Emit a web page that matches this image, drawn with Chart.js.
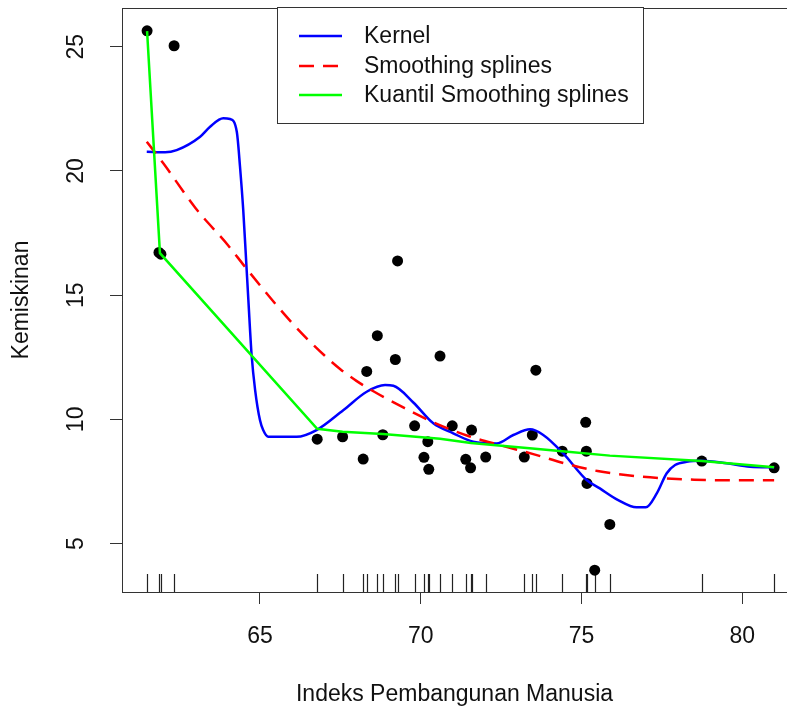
<!DOCTYPE html>
<html>
<head>
<meta charset="utf-8">
<script src="https://cdn.jsdelivr.net/npm/chart.js@4.4.0/dist/chart.umd.min.js"></script>
<style>
  html, body { margin: 0; padding: 0; background: #ffffff; overflow: hidden; }
  #wrap { width: 787px; height: 708px; }
  canvas { display: block; }
</style>
</head>
<body>
<div id="wrap"><canvas id="c" width="787" height="708"></canvas></div>
<script>
// ---- data ----
const ipm = [61.49, 62.33, 61.86, 61.92, 66.78, 67.57, 68.21, 68.32, 68.65, 68.82, 69.21, 69.28,
             69.81, 70.10, 70.22, 70.25, 70.60, 70.98, 71.40, 71.55, 71.58, 72.02, 73.22, 73.47,
             73.58, 74.40, 75.13, 75.15, 75.17, 75.41, 75.88, 78.74, 80.99];
const kemiskinan = [25.64, 25.04, 16.72, 16.65, 9.20, 9.30, 8.40, 11.93, 13.37, 9.38, 12.41, 16.38,
                    9.74, 8.47, 9.10, 7.99, 12.55, 9.74, 8.39, 8.05, 9.57, 8.48, 8.48, 9.37,
                    11.98, 8.72, 9.88, 8.72, 7.42, 3.93, 5.77, 8.32, 8.05];

const kernelX = [61.48, 62.05, 62.41, 63.14, 63.45, 63.86, 64.07, 64.28, 64.38, 64.48, 64.57, 64.64,
                 64.74, 64.85, 65.00, 65.10, 65.26, 66.14, 66.76, 67.59, 68.32, 68.89, 69.15, 69.77,
                 70.39, 71.01, 71.63, 72.36, 72.88, 73.40, 73.81, 74.43, 75.16, 75.57, 76.14, 76.71,
                 77.00, 77.34, 77.65, 77.91, 78.27, 78.74, 79.51, 80.24, 80.99];
const kernelY = [20.77, 20.75, 20.84, 21.38, 21.78, 22.12, 22.09, 21.58, 20.17, 18.43, 16.40, 14.80,
                 12.60, 11.18, 9.97, 9.57, 9.30, 9.30, 9.57, 10.37, 11.11, 11.38, 11.35, 10.68,
                 9.84, 9.44, 9.10, 9.03, 9.37, 9.60, 9.37, 8.63, 7.56, 7.22, 6.75, 6.46,
                 6.46, 7.02, 7.83, 8.16, 8.29, 8.33, 8.23, 8.09, 8.07];

const splineX = [61.48, 62.0, 63.0, 64.0, 64.5, 65.0, 65.5, 66.0, 66.5, 67.0, 67.5, 68.0, 68.5,
                 69.5, 70.5, 71.5, 72.5, 73.5, 74.5, 75.5, 76.5, 77.5, 78.5, 79.5, 80.99];
const splineY = [21.18, 20.30, 18.50, 17.02, 16.20, 15.40, 14.62, 13.88, 13.20, 12.58, 12.02, 11.55, 11.15,
                 10.45, 9.82, 9.32, 8.95, 8.60, 8.22, 7.92, 7.74, 7.63, 7.57, 7.55, 7.55];

const kuantilX = [61.49, 61.89, 66.78, 67.57, 68.82, 70.60, 71.56, 73.47, 74.40, 75.88, 78.74, 80.99];
const kuantilY = [25.63, 16.69, 9.62, 9.50, 9.41, 9.22, 9.05, 8.83, 8.72, 8.54, 8.32, 8.07];

const xTicks = [65, 70, 75, 80];
const yTicks = [5, 10, 15, 20, 25];
const legendLabels = ['Kernel', 'Smoothing splines', 'Kuantil Smoothing splines'];

// ---- chart ----
const FONT = 'Liberation Sans, Arial, sans-serif';
const AXIS = '#333333';
const TXT = '#111111';
const pts = (xs, ys) => xs.map((x, i) => ({ x: x, y: ys[i] }));

const boxPlugin = {
  id: 'rbox',
  beforeDatasetsDraw(chart) {
    const { ctx, chartArea: a } = chart;
    const xs = chart.scales.x;
    ctx.save();
    ctx.strokeStyle = '#222';
    ctx.lineWidth = 1.2;
    ctx.beginPath();
    ipm.forEach(v => {
      const px = Math.round(xs.getPixelForValue(v)) + 0.5;
      ctx.moveTo(px, a.bottom);
      ctx.lineTo(px, a.bottom - 18);
    });
    ctx.stroke();
    ctx.restore();
  },
  afterDraw(chart) {
    const { ctx, chartArea: a } = chart;
    ctx.save();
    // plot box (right side runs off the canvas)
    ctx.strokeStyle = AXIS;
    ctx.lineWidth = 1;
    ctx.beginPath();
    ctx.moveTo(a.right + 5, a.top + 0.5);
    ctx.lineTo(a.left + 0.5, a.top + 0.5);
    ctx.lineTo(a.left + 0.5, a.bottom);
    ctx.stroke();
    // legend
    const bx = 277.5, by = 7.5, bw = 366, bh = 116;
    ctx.fillStyle = '#ffffff';
    ctx.fillRect(bx, by, bw, bh);
    ctx.strokeRect(bx, by, bw, bh);
    const ds = chart.data.datasets;
    const rowsY = [36, 66, 95];
    legendLabels.forEach((lab, i) => {
      const d = ds.find(s => s.label === lab);
      ctx.strokeStyle = d.borderColor;
      ctx.lineWidth = 2.5;
      ctx.setLineDash(d.borderDash || []);
      ctx.beginPath();
      ctx.moveTo(299, rowsY[i]);
      ctx.lineTo(342, rowsY[i]);
      ctx.stroke();
      ctx.setLineDash([]);
      ctx.fillStyle = TXT;
      ctx.font = '23px ' + FONT;
      ctx.textBaseline = 'middle';
      ctx.textAlign = 'left';
      ctx.fillText(lab, 364, rowsY[i] + 1);
    });
    ctx.restore();
  }
};

new Chart(document.getElementById('c'), {
  type: 'scatter',
  data: {
    datasets: [
      { label: 'Kuantil Smoothing splines', data: pts(kuantilX, kuantilY), showLine: true,
        borderColor: '#00FF00', borderWidth: 2.5, pointRadius: 0, tension: 0, order: 1 },
      { label: 'Smoothing splines', data: pts(splineX, splineY), showLine: true,
        borderColor: '#FF0000', borderWidth: 2.5, borderDash: [15, 9], pointRadius: 0,
        cubicInterpolationMode: 'monotone', order: 2 },
      { label: 'Kernel', data: pts(kernelX, kernelY), showLine: true,
        borderColor: '#0000FF', borderWidth: 2.5, pointRadius: 0,
        cubicInterpolationMode: 'monotone', order: 3 },
      { label: 'data', data: pts(ipm, kemiskinan), showLine: false,
        backgroundColor: '#000000', borderColor: '#000000', pointRadius: 5.5, borderWidth: 0, order: 4 }
    ]
  },
  options: {
    responsive: false,
    animation: false,
    devicePixelRatio: 1,
    layout: { autoPadding: false, padding: { top: 8, left: 0, right: 0, bottom: 0 } },
    plugins: { legend: { display: false }, tooltip: { enabled: false } },
    scales: {
      x: {
        type: 'linear', min: 60.71, max: 81.39,
        afterBuildTicks: s => { s.ticks = xTicks.map(v => ({ value: v })); },
        afterFit: s => { s.height = 116; s.paddingLeft = 0; s.paddingRight = 0; },
        ticks: { font: { family: FONT, size: 23 }, color: TXT, padding: 19, autoSkip: false,
                 maxRotation: 0, minRotation: 0 },
        grid: { drawOnChartArea: false, drawTicks: true, tickLength: 12, color: AXIS, tickWidth: 1 },
        border: { display: true, color: AXIS, width: 1 },
        title: { display: true, text: 'Indeks Pembangunan Manusia', color: TXT,
                 font: { family: FONT, size: 23 }, padding: { top: 0, bottom: 0 } }
      },
      y: {
        type: 'linear', min: 3.05, max: 26.56,
        afterBuildTicks: s => { s.ticks = yTicks.map(v => ({ value: v })); },
        afterFit: s => { s.width = 122; s.paddingTop = 0; s.paddingBottom = 0; },
        ticks: { font: { family: FONT, size: 23 }, color: TXT, padding: 21, autoSkip: false,
                 minRotation: 90, maxRotation: 90, crossAlign: 'center' },
        grid: { drawOnChartArea: false, drawTicks: true, tickLength: 12, color: AXIS, tickWidth: 1 },
        border: { display: true, color: AXIS, width: 1 },
        title: { display: true, text: 'Kemiskinan', color: TXT,
                 font: { family: FONT, size: 23 }, padding: { top: 8, bottom: 0 } }
      }
    }
  },
  plugins: [boxPlugin]
});
</script>
</body>
</html>
